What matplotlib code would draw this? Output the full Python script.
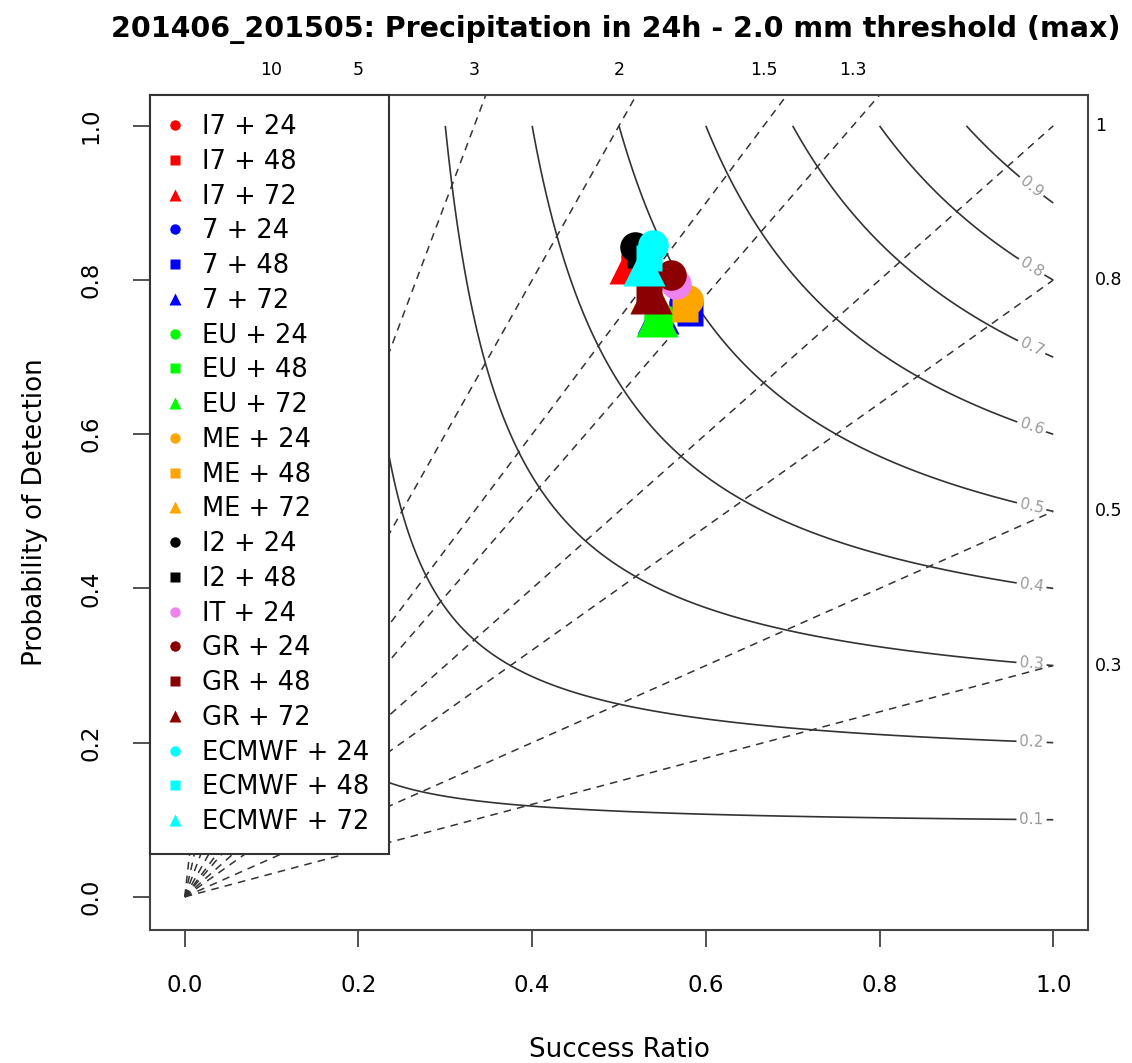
import numpy as np
import matplotlib.pyplot as plt

plt.rcParams['font.family'] = ['DejaVu Sans']

# --- data: (success ratio, POD) per model / lead time ---
models = ["I7", "7", "EU", "ME", "I2", "IT", "GR", "ECMWF"]
colors = ["#FF0000", "#0000FF", "#00FF00", "#FFA500", "#000000", "#EE82EE", "#8B0000", "#00FFFF"]
leads = {
    "I7": [24, 48, 72],
    "7": [24, 48, 72],
    "EU": [24, 48, 72],
    "ME": [24, 48, 72],
    "I2": [24, 48],
    "IT": [24],
    "GR": [24, 48, 72],
    "ECMWF": [24, 48, 72],
}
sr = {
    "I7": [0.520, 0.520, 0.513],
    "7": [0.575, 0.582, 0.545],
    "EU": [0.546, 0.546, 0.544],
    "ME": [0.579, 0.576, 0.537],
    "I2": [0.518, 0.524],
    "IT": [0.566],
    "GR": [0.560, 0.535, 0.537],
    "ECMWF": [0.539, 0.535, 0.529],
}
pod = {
    "I7": [0.830, 0.820, 0.822],
    "7": [0.770, 0.757, 0.757],
    "EU": [0.752, 0.750, 0.754],
    "ME": [0.774, 0.763, 0.785],
    "I2": [0.843, 0.833],
    "IT": [0.795],
    "GR": [0.807, 0.781, 0.783],
    "ECMWF": [0.846, 0.829, 0.820],
}
marker_of = {24: "o", 48: "s", 72: "^"}
size_of = {24: 22, 48: 19, 72: 30}
legsize_of = {"o": 7.5, "s": 7.5, "^": 9}

bias_levels = [0.3, 0.5, 0.8, 1, 1.3, 1.5, 2, 3, 5, 10]
csi_levels = [0.1, 0.2, 0.3, 0.4, 0.5, 0.6, 0.7, 0.8, 0.9]

fig = plt.figure(figsize=(11.32, 10.63), dpi=100)
ax = fig.add_axes([150/1132, 133/1063, 938/1132, 835/1063])
ax.set_xlim(-0.04, 1.04)
ax.set_ylim(-0.043, 1.04)

# CSI contours
g = np.linspace(0.001, 1, 600)
SR, POD = np.meshgrid(g, g)
CSI = 1 / (1 / SR + 1 / POD - 1)
cs = ax.contour(SR, POD, CSI, levels=csi_levels, colors="#333333", linewidths=1.2)
lab_pos = [(0.975, 1 / (1 / c - 1 / 0.975 + 1)) for c in csi_levels]
ax.clabel(cs, fmt="%.1f", fontsize=11, colors="#999999", manual=lab_pos, inline_spacing=3)

# bias lines
for b in bias_levels:
    ax.plot([0, 1], [0, b], color="#333333", lw=1.1, dashes=(5, 4))
    if b > 1:
        ax.text(1 / b, 1.072, f"{b:g}", ha="center", va="center", fontsize=12.5)
    else:
        ax.text(1.048, b, f"{b:g}", ha="left", va="center", fontsize=12.5)

# points
for m, c in zip(models, colors):
    for i, lt in enumerate(leads[m]):
        ax.plot(sr[m][i], pod[m][i], marker=marker_of[lt], color=c, ls="none",
                ms=size_of[lt], mec="none", label=f"{m} + {lt}")

leg = ax.legend(loc="upper left", bbox_to_anchor=(0, 1), borderaxespad=0,
                fancybox=False, edgecolor="#333333", framealpha=1, fontsize=18.5,
                labelspacing=0.34, handlelength=0.47, handletextpad=0.8,
                borderpad=0.75)
leg.get_frame().set_linewidth(1.5)
for h in leg.legend_handles:
    h.set_markersize(legsize_of[h.get_marker()])

ax.set_xticks([0, 0.2, 0.4, 0.6, 0.8, 1.0])
ax.set_yticks([0, 0.2, 0.4, 0.6, 0.8, 1.0])
ax.set_xticklabels(["0.0", "0.2", "0.4", "0.6", "0.8", "1.0"])
ax.set_yticklabels(["0.0", "0.2", "0.4", "0.6", "0.8", "1.0"], rotation=90, va="center")
ax.tick_params(length=12, width=1.2, labelsize=16.5, color="#333333")
ax.tick_params(axis="x", pad=20)
ax.tick_params(axis="y", pad=22)
for s in ax.spines.values():
    s.set_linewidth(1.5)
    s.set_color("#444444")

ax.set_xlabel("Success Ratio", fontsize=18.8)
ax.set_ylabel("Probability of Detection", fontsize=18.8)
ax.xaxis.set_label_coords(0.5, -0.1437)
ax.yaxis.set_label_coords(-0.1226, 0.5)
ax.xaxis.label.set_va("center")
ax.yaxis.label.set_va("center")

fig.text(0.544, 1 - 30/1063, "201406_201505: Precipitation in 24h - 2.0 mm threshold (max)",
         ha="center", va="center", fontsize=20.5, fontweight="bold")

fig.savefig("out.png", dpi=100)
